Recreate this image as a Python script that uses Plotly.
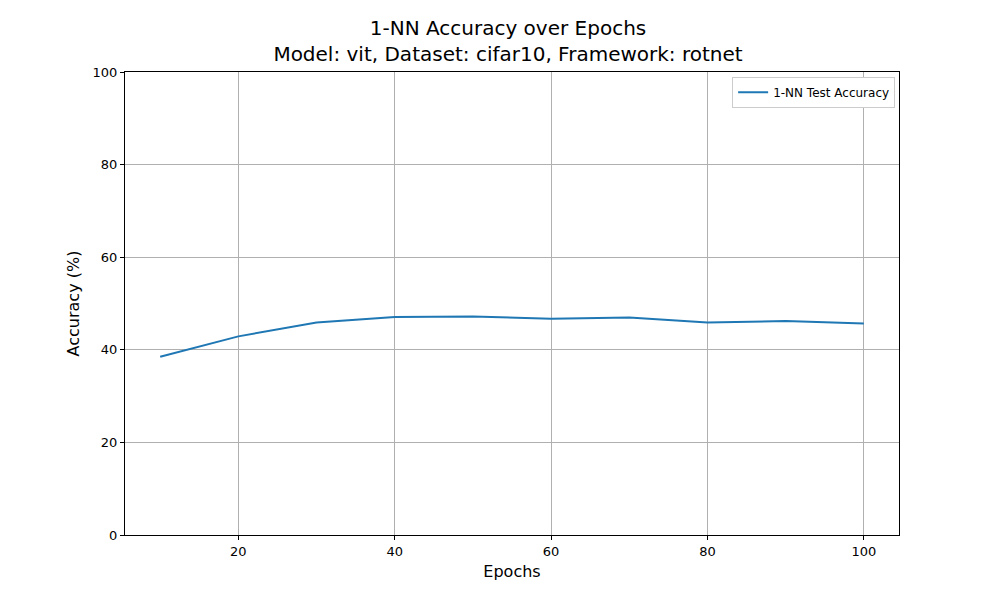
import plotly.graph_objects as go

epochs = [10, 20, 30, 40, 50, 60, 70, 80, 90, 100]
accuracy = [38.5, 42.9, 45.9, 47.1, 47.2, 46.7, 47.0, 45.9, 46.2, 45.7]

fig = go.Figure(go.Scatter(
    x=epochs, y=accuracy, mode="lines", name="1-NN Test Accuracy",
    line=dict(color="#1f77b4", width=2),
))

axis = dict(showline=True, linecolor="black", mirror=True, ticks="outside",
            ticklen=4, tickcolor="black", showgrid=True, gridcolor="#b0b0b0",
            zeroline=False, tickfont=dict(size=13, color="black"))

fig.update_layout(
    width=1000, height=600,
    plot_bgcolor="white", paper_bgcolor="white",
    font=dict(family="DejaVu Sans", color="black"),
    margin=dict(l=117, r=109, t=64, b=73),
    title=dict(text="1-NN Accuracy over Epochs<br>Model: vit, Dataset: cifar10, Framework: rotnet",
               x=0.5, xanchor="center", y=0.955, yanchor="top", font=dict(size=20)),
    xaxis=dict(axis, range=[5.5, 104.5], tickvals=[20, 40, 60, 80, 100],
               title=dict(text="Epochs", font=dict(size=16), standoff=8)),
    yaxis=dict(axis, range=[0, 100], tickvals=[0, 20, 40, 60, 80, 100],
               title=dict(text="Accuracy (%)", font=dict(size=16), standoff=8)),
    showlegend=True,
    legend=dict(x=0.995, y=0.99, xanchor="right", yanchor="top",
                bordercolor="#cccccc", borderwidth=1, font=dict(size=12),
                tracegroupgap=0, itemwidth=30),
)

fig.write_html("out.html")
